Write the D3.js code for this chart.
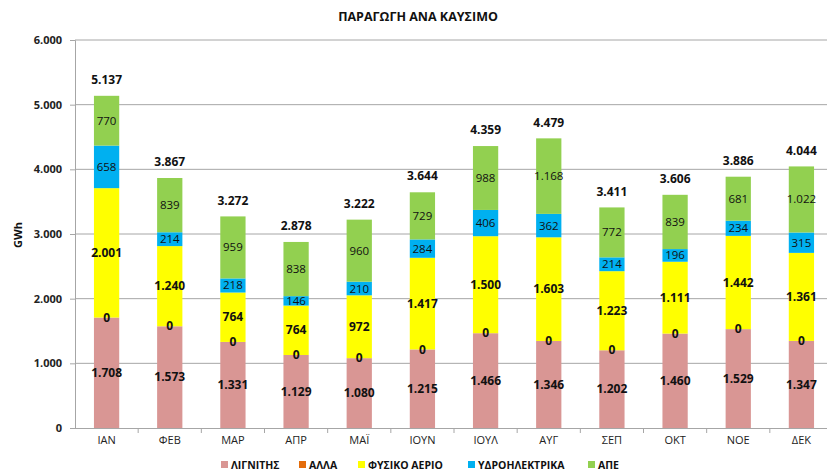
<!DOCTYPE html>
<html><head><meta charset="utf-8">
<script src="https://cdn.jsdelivr.net/npm/d3@7"></script>
<style>
html,body{margin:0;padding:0;background:#fff;overflow:hidden}
text{font-family:"Open Sans","Noto Sans",sans-serif}
</style></head>
<body><svg id="c" width="827" height="473"></svg>
<script>
const months = ["ΙΑΝ","ΦΕΒ","ΜΑΡ","ΑΠΡ","ΜΑΪ","ΙΟΥΝ","ΙΟΥΛ","ΑΥΓ","ΣΕΠ","ΟΚΤ","ΝΟΕ","ΔΕΚ"];
const lignite = [1708,1573,1331,1129,1080,1215,1466,1346,1202,1460,1529,1347];
const other   = [0,0,0,0,0,0,0,0,0,0,0,0];
const gas     = [2001,1240,764,764,972,1417,1500,1603,1223,1111,1442,1361];
const hydro   = [658,214,218,146,210,284,406,362,214,196,234,315];
const res     = [770,839,959,838,960,729,988,1168,772,839,681,1022];
const totals  = [5137,3867,3272,2878,3222,3644,4359,4479,3411,3606,3886,4044];
const yTicks  = [0,1000,2000,3000,4000,5000,6000];
const seriesNames = ["ΛΙΓΝΙΤΗΣ","ΑΛΛΑ","ΦΥΣΙΚΟ ΑΕΡΙΟ","ΥΔΡΟΗΛΕΚΤΡΙΚΑ","ΑΠΕ"];
const seriesColors = ["#D99694","#E46C0A","#FFFF00","#00B0F0","#92D050"];
const seriesData = [lignite, other, gas, hydro, res];
const labelBold = [true,true,true,false,false];

const loc = d3.formatLocale({decimal:",", thousands:".", grouping:[3], currency:["","€"]});
const fmt = loc.format(",d");

const svg = d3.select("#c");
const x = d3.scaleBand().domain(months).range([75, 833]).paddingInner(0.6).paddingOuter(0.3);
const xb = d3.scaleBand().domain(months).range([75, 833]);
const y = d3.scaleLinear().domain([0,6000]).range([428, 40]);

// gridlines
svg.append("g").selectAll("line").data(yTicks.slice(1)).join("line")
  .attr("x1",75).attr("x2",833).attr("y1",d=>y(d)).attr("y2",d=>y(d))
  .attr("stroke","#A6A6A6").attr("stroke-width",1);

// y axis
const ya = svg.append("g").attr("transform","translate(75,0)")
  .call(d3.axisLeft(y).tickValues(yTicks).tickFormat(fmt).tickSize(5).tickPadding(8));
ya.select(".domain").attr("stroke","#A6A6A6");
ya.selectAll(".tick line").attr("stroke","#A6A6A6");
ya.selectAll("text").attr("font-size",11).attr("font-weight","bold").attr("fill","#222");

// x axis
const xa = svg.append("g").attr("transform","translate(0,428)")
  .call(d3.axisBottom(x).tickSize(0).tickPadding(8));
xa.select(".domain").remove();
xa.selectAll("text").attr("font-size",11).attr("fill","#222");
svg.append("line").attr("x1",75).attr("x2",833).attr("y1",428.5).attr("y2",428.5).attr("stroke","#A6A6A6");
svg.append("g").selectAll("line").data(months.slice(1)).join("line")
  .attr("x1",d=>xb(d)).attr("x2",d=>xb(d)).attr("y1",428).attr("y2",433).attr("stroke","#A6A6A6");

// stack
const rows = months.map((m,i)=>{const o={m}; seriesNames.forEach((s,k)=>o[s]=seriesData[k][i]); return o;});
const stacked = d3.stack().keys(seriesNames)(rows);

const gBars = svg.append("g");
stacked.forEach((layer,k)=>{
  gBars.append("g").selectAll("rect").data(layer).join("rect")
    .attr("x",d=>x(d.data.m)).attr("width",x.bandwidth())
    .attr("y",d=>y(d[1])).attr("height",d=>y(d[0])-y(d[1]))
    .attr("fill",seriesColors[k]);
});
stacked.forEach((layer,k)=>{
  svg.append("g").selectAll("text").data(layer).join("text")
    .attr("x",d=>x(d.data.m)+x.bandwidth()/2)
    .attr("y",d=>(y(d[0])+y(d[1]))/2)
    .attr("dy","0.35em").attr("text-anchor","middle")
    .attr("font-size",labelBold[k]?12:11.5).attr("font-weight",labelBold[k]?"bold":"normal")
    .attr("fill","#111")
    .text(d=>fmt(d[1]-d[0]));
});
// totals
svg.append("g").selectAll("text").data(months).join("text")
  .attr("x",d=>x(d)+x.bandwidth()/2)
  .attr("y",(d,i)=>y(d3.sum(seriesData,s=>s[i]))-16)
  .attr("dy","0.35em").attr("text-anchor","middle")
  .attr("font-size",12).attr("font-weight","bold").attr("fill","#111")
  .text((d,i)=>fmt(totals[i]));

// title
svg.append("text").attr("x",418).attr("y",21).attr("text-anchor","middle")
  .attr("font-size",12.5).attr("font-weight","bold").attr("fill","#111")
  .text("ΠΑΡΑΓΩΓΗ ΑΝΑ ΚΑΥΣΙΜΟ");
// y label
svg.append("text").attr("transform","translate(22,235) rotate(-90)")
  .attr("text-anchor","middle").attr("font-size",11).attr("font-weight","bold").attr("fill","#111")
  .text("GWh");

// legend
const legX = [221,299,358,468,588];
const lg = svg.append("g").selectAll("g").data(seriesNames).join("g")
  .attr("transform",(d,i)=>`translate(${legX[i]},461)`);
lg.append("rect").attr("width",7).attr("height",7).attr("y",0).attr("fill",(d,i)=>seriesColors[i]);
lg.append("text").attr("x",10).attr("y",4).attr("dy","0.35em").attr("font-size",10.5).attr("font-weight","bold").attr("fill","#111").text(d=>d);
</script></body></html>
